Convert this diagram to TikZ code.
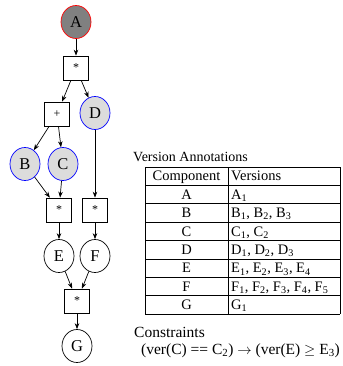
\documentclass[tikz,border=0pt]{standalone}
\usepackage{fontspec}
\setmainfont{Liberation Serif}
\usetikzlibrary{arrows.meta, shapes.geometric, positioning}

\definecolor{nodegray}{RGB}{128,128,128}
\definecolor{leafgray}{RGB}{220,220,220}
\newcommand{\vs}[2]{#1\textsubscript{#2}}

\tikzset{
  comp/.style={draw, ellipse, line width=0.7pt, minimum width=30pt, minimum height=33pt,
    inner sep=0pt, font=\fontsize{16.5}{16.5}\selectfont},
  opbox/.style={draw, rectangle, line width=0.7pt, minimum width=25pt, minimum height=24pt,
    inner sep=0pt, font=\fontsize{12}{12}\selectfont},
  edge/.style={-{Stealth[length=6pt,width=4.5pt]}, line width=0.7pt},
  cell/.style={anchor=base, inner sep=0pt, font=\fontsize{14.5}{14.5}\selectfont},
  label/.style={anchor=base west, inner sep=0pt, font=\fontsize{14}{14}\selectfont}
}

\begin{document}
\begin{tikzpicture}[x=1pt, y=-1pt]
  \useasboundingbox (0,0) rectangle (342,366);

  % components and operators
  \node[comp, fill=nodegray, draw=red] (A) at (76,22) {A};
  \node[opbox] (m1) at (76,68) {*};
  \node[opbox] (plus) at (57,114) {+};
  \node[comp, fill=leafgray, draw=blue] (D) at (95,113) {D};
  \node[comp, fill=leafgray, draw=blue] (B) at (25,164) {B};
  \node[comp, fill=leafgray, draw=blue] (C) at (63,164) {C};
  \node[opbox] (m2) at (59,210) {*};
  \node[opbox] (m3) at (95,210) {*};
  \node[comp] (E) at (59,256) {E};
  \node[comp] (F) at (95,256) {F};
  \node[opbox] (m4) at (77,301) {*};
  \node[comp] (G) at (77,346) {G};

  \draw[edge] (A) -- (m1);
  \draw[edge] (m1) -- (plus);
  \draw[edge] (m1) -- (D);
  \draw[edge] (plus) -- (B);
  \draw[edge] (plus) -- (C);
  \draw[edge] (B) -- (m2);
  \draw[edge] (C) -- (m2);
  \draw[edge] (D) -- (m3);
  \draw[edge] (m2) -- (E);
  \draw[edge] (m3) -- (F);
  \draw[edge] (E) -- (m4);
  \draw[edge] (F) -- (m4);
  \draw[edge] (m4) -- (G);

  % version table
  \node[label] (title) at (133,161) {Version Annotations};
  \foreach \y in {0,...,8}
  {
      \draw[line width=0.7pt] (145,167+18.4*\y) -- (340,167+18.4*\y);
  }
  \draw[line width=0.7pt] (145,167) -- (145,314.2);
  \draw[line width=0.7pt] (228,167) -- (228,314.2);
  \draw[line width=0.7pt] (340,167) -- (340,314.2);

  \foreach \c/\v [count=\i from 0] in {Component/Versions, A/{\vs A1},
      B/{\vs B1, \vs B2, \vs B3}, C/{\vs C1, \vs C2}, D/{\vs D1, \vs D2, \vs D3},
      E/{\vs E1, \vs E2, \vs E3, \vs E4}, F/{\vs F1, \vs F2, \vs F3, \vs F4, \vs F5},
      G/{\vs G1}}
  {
      \node[cell] (c\i) at (186.5,180.9+18.4*\i) {\c};
      \node[cell, anchor=base west] (v\i) at (231,180.9+18.4*\i) {\v};
  }

  % constraints
  \node[label, font=\fontsize{15.5}{15.5}\selectfont] (cons) at (134,337) {Constraints};
  \node[label, font=\fontsize{15.5}{15.5}\selectfont] (rule) at (141,354)
    {(ver(C) == \vs C2) $\rightarrow$ (ver(E) $\geq$ \vs E3)};
\end{tikzpicture}
\end{document}
